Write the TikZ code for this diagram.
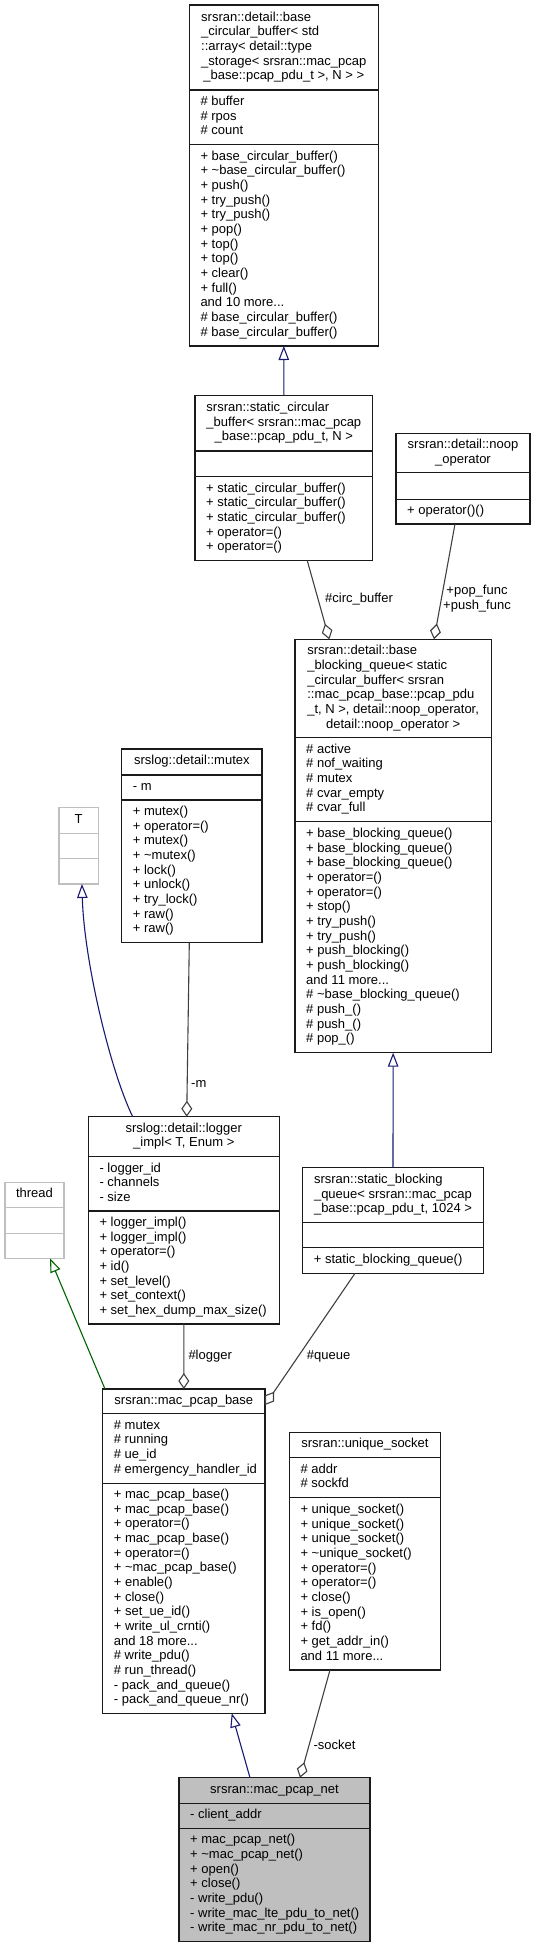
\documentclass[tikz,border=0pt]{standalone}
\usepackage{fontspec}
\setmainfont{Liberation Sans}
\usetikzlibrary{arrows.meta}

\definecolor{boxline}{HTML}{1A1A1A}
\definecolor{extgray}{HTML}{BFBFBF}
\definecolor{curfill}{HTML}{BFBFBF}
\definecolor{edgeblue}{HTML}{191970}
\definecolor{edgegreen}{HTML}{006400}
\definecolor{edgegray}{HTML}{404040}

\newcommand{\boxfont}{\fontsize{13}{14.67}\selectfont}
\newcommand{\rows}[1]{\boxfont\begin{tabular}{@{}l@{}}#1\end{tabular}}
\newcommand{\lastline}[1]{\multicolumn{1}{@{}c@{}}{#1}}
% name, style, left, top, right, sep1, sep2, bottom
\newcommand{\classbox}[8]{%
  \node[#2, anchor=north west, minimum width={#5-#3}, minimum height={#8-#4}] (#1) at (#3,#4) {};
  \draw[#2] (#3,#6) -- (#5,#6) (#3,#7) -- (#5,#7);
  \coordinate (#1-t) at ({(#3+#5)/2},{(#4+#6)/2});
  \coordinate (#1-a) at ({#3+11},{(#6+#7)/2});
  \coordinate (#1-m) at ({#3+11},{(#7+#8)/2});
}

\tikzset{
  cls/.style={draw=boxline, fill=white, line width=1.1pt, inner sep=0pt, outer sep=0pt},
  ext/.style={cls, draw=extgray},
  cur/.style={cls, fill=curfill},
  ttl/.style={inner sep=0pt, font=\boxfont},
  mem/.style={ttl, anchor=west},
  lbl/.style={inner sep=0pt, font=\boxfont, anchor=west},
  inh/.style={draw=edgeblue, line width=1.1pt, -{Triangle[open, length=14pt, width=10.5pt]}},
  comp/.style={draw=edgegray, line width=1.1pt, -{Diamond[open, length=16pt, width=11pt]}}
}

\begin{document}
\begin{tikzpicture}[x=1pt, y=-1pt]
\useasboundingbox (0,0) rectangle (536,1948);

% base circular buffer
\classbox{bcb}{cls}{189.3}{5}{378.3}{90}{144.3}{346}
\node[ttl] (bcb-title) at (bcb-t) {\rows{srsran::detail::base\\\_circular\_buffer< std\\::array< detail::type\\\_storage< srsran::mac\_pcap\\\lastline{\_base::pcap\_pdu\_t >, N > >}}};
\node[mem] (bcb-attr) at (bcb-a) {\rows{\# buffer\\\# rpos\\\# count}};
\node[mem] (bcb-meth) at (bcb-m) {\rows{+ base\_circular\_buffer()\\+ \textasciitilde{}base\_circular\_buffer()\\+ push()\\+ try\_push()\\+ try\_push()\\+ pop()\\+ top()\\+ top()\\+ clear()\\+ full()\\and 10 more...\\\# base\_circular\_buffer()\\\# base\_circular\_buffer()}};

% static circular buffer
\classbox{scb}{cls}{195}{395.7}{372.7}{451}{476.7}{560.7}
\node[ttl] (scb-title) at (scb-t) {\rows{srsran::static\_circular\\\_buffer< srsran::mac\_pcap\\\lastline{\_base::pcap\_pdu\_t, N >}}};
\node[mem] (scb-meth) at (scb-m) {\rows{+ static\_circular\_buffer()\\+ static\_circular\_buffer()\\+ static\_circular\_buffer()\\+ operator=()\\+ operator=()}};

% noop operator
\classbox{noop}{cls}{396}{433.3}{530}{472.7}{499.3}{524}
\node[ttl] (noop-title) at (noop-t) {\rows{srsran::detail::noop\\\lastline{\_operator}}};
\node[mem] (noop-meth) at (noop-m) {\rows{+ operator()()}};

% base blocking queue
\classbox{bbq}{cls}{295}{639.3}{491.3}{737.7}{821.7}{1052.7}
\node[ttl] (bbq-title) at (bbq-t) {\rows{srsran::detail::base\\\_blocking\_queue< static\\\_circular\_buffer< srsran\\::mac\_pcap\_base::pcap\_pdu\\\_t, N >, detail::noop\_operator,\\\lastline{detail::noop\_operator >}}};
\node[mem] (bbq-attr) at (bbq-a) {\rows{\# active\\\# nof\_waiting\\\# mutex\\\# cvar\_empty\\\# cvar\_full}};
\node[mem] (bbq-meth) at (bbq-m) {\rows{+ base\_blocking\_queue()\\+ base\_blocking\_queue()\\+ base\_blocking\_queue()\\+ operator=()\\+ operator=()\\+ stop()\\+ try\_push()\\+ try\_push()\\+ push\_blocking()\\+ push\_blocking()\\and 11 more...\\\# \textasciitilde{}base\_blocking\_queue()\\\# push\_()\\\# push\_()\\\# pop\_()}};

% T and mutex
\classbox{T}{ext}{59}{807.7}{98.3}{833.3}{858.3}{884}
\node[ttl] (T-title) at (T-t) {\rows{T}};
\classbox{mtx}{cls}{121.7}{749}{262}{775}{800}{942.7}
\node[ttl] (mtx-title) at (mtx-t) {\rows{srslog::detail::mutex}};
\node[mem] (mtx-attr) at (mtx-a) {\rows{- m}};
\node[mem] (mtx-meth) at (mtx-m) {\rows{+ mutex()\\+ operator=()\\+ mutex()\\+ \textasciitilde{}mutex()\\+ lock()\\+ unlock()\\+ try\_lock()\\+ raw()\\+ raw()}};

% logger impl and thread
\classbox{lg}{cls}{88.3}{1116.7}{279.3}{1156.7}{1211}{1324}
\node[ttl] (lg-title) at (lg-t) {\rows{srslog::detail::logger\\\lastline{\_impl< T, Enum >}}};
\node[mem] (lg-attr) at (lg-a) {\rows{- logger\_id\\- channels\\- size}};
\node[mem] (lg-meth) at (lg-m) {\rows{+ logger\_impl()\\+ logger\_impl()\\+ operator=()\\+ id()\\+ set\_level()\\+ set\_context()\\+ set\_hex\_dump\_max\_size()}};
\classbox{th}{ext}{5}{1182.3}{64}{1207.7}{1233.3}{1258.3}
\node[ttl] (th-title) at (th-t) {\rows{thread}};

% static blocking queue
\classbox{sbq}{cls}{302.7}{1167.7}{483.3}{1222.7}{1247.7}{1273.3}
\node[ttl] (sbq-title) at (sbq-t) {\rows{srsran::static\_blocking\\\_queue< srsran::mac\_pcap\\\lastline{\_base::pcap\_pdu\_t, 1024 >}}};
\node[mem] (sbq-meth) at (sbq-m) {\rows{+ static\_blocking\_queue()}};

% mac pcap base
\classbox{mpb}{cls}{102.7}{1389}{265}{1413.3}{1483.3}{1713.3}
\node[ttl] (mpb-title) at (mpb-t) {\rows{srsran::mac\_pcap\_base}};
\node[mem] (mpb-attr) at (mpb-a) {\rows{\# mutex\\\# running\\\# ue\_id\\\# emergency\_handler\_id}};
\node[mem] (mpb-meth) at (mpb-m) {\rows{+ mac\_pcap\_base()\\+ mac\_pcap\_base()\\+ operator=()\\+ mac\_pcap\_base()\\+ operator=()\\+ \textasciitilde{}mac\_pcap\_base()\\+ enable()\\+ close()\\+ set\_ue\_id()\\+ write\_ul\_crnti()\\and 18 more...\\\# write\_pdu()\\\# run\_thread()\\- pack\_and\_queue()\\- pack\_and\_queue\_nr()}};

% unique socket
\classbox{us}{cls}{289.3}{1432.3}{440.7}{1457.3}{1497.7}{1670}
\node[ttl] (us-title) at (us-t) {\rows{srsran::unique\_socket}};
\node[mem] (us-attr) at (us-a) {\rows{\# addr\\\# sockfd}};
\node[mem] (us-meth) at (us-m) {\rows{+ unique\_socket()\\+ unique\_socket()\\+ unique\_socket()\\+ \textasciitilde{}unique\_socket()\\+ operator=()\\+ operator=()\\+ close()\\+ is\_open()\\+ fd()\\+ get\_addr\_in()\\and 11 more...}};

% mac pcap net
\classbox{mpn}{cur}{179}{1777.7}{370}{1803.3}{1828.3}{1941.7}
\node[ttl] (mpn-title) at (mpn-t) {\rows{srsran::mac\_pcap\_net}};
\node[mem] (mpn-attr) at (mpn-a) {\rows{- client\_addr}};
\node[mem] (mpn-meth) at (mpn-m) {\rows{+ mac\_pcap\_net()\\+ \textasciitilde{}mac\_pcap\_net()\\+ open()\\+ close()\\- write\_pdu()\\- write\_mac\_lte\_pdu\_to\_net()\\- write\_mac\_nr\_pdu\_to\_net()}};

% connectors
\draw[inh] (scb.north) -- (bcb.south);
\draw[comp] ([xshift=112.3pt]scb.south west) -- ([xshift=34.3pt]bbq.north west);
\node[lbl] (l-circ) at (325,599.3) {\#circ\_buffer};
\draw[comp] ([xshift=59pt]noop.south west) -- ([xshift=139pt]bbq.north west);
\node[lbl, anchor=center] (l-func) at (477,599.2) {\boxfont\begin{tabular}{@{}c@{}}+pop\_func\\+push\_func\end{tabular}};
\draw[inh] (sbq.north) -- (bbq.south);
\draw[comp] ([xshift=67.6pt]mtx.south west) -- ([xshift=98.4pt]lg.north west);
\node[lbl] (l-m) at (191,1084) {-m};
\draw[inh] ([xshift=44.4pt]lg.north west) .. controls (110,1070) and (84,960) .. ([xshift=3.3pt]T.south);
\draw[inh, draw=edgegreen] ([xshift=2.3pt]mpb.north west) -- ([xshift=15.5pt]th.south);
\draw[comp] (lg.south) -- (mpb.north);
\node[lbl] (l-logger) at (188.3,1356) {\#logger};
\draw[comp] ([xshift=52.3pt]sbq.south west) -- ([yshift=-16pt]mpb.north east);
\node[lbl] (l-queue) at (306.7,1356) {\#queue};
\draw[inh] ([xshift=71pt]mpn.north west) -- ([xshift=129pt]mpb.south west);
\draw[comp] ([xshift=40.7pt]us.south west) -- ([xshift=121pt]mpn.north west);
\node[lbl] (l-socket) at (313.3,1745) {-socket};
\end{tikzpicture}
\end{document}
